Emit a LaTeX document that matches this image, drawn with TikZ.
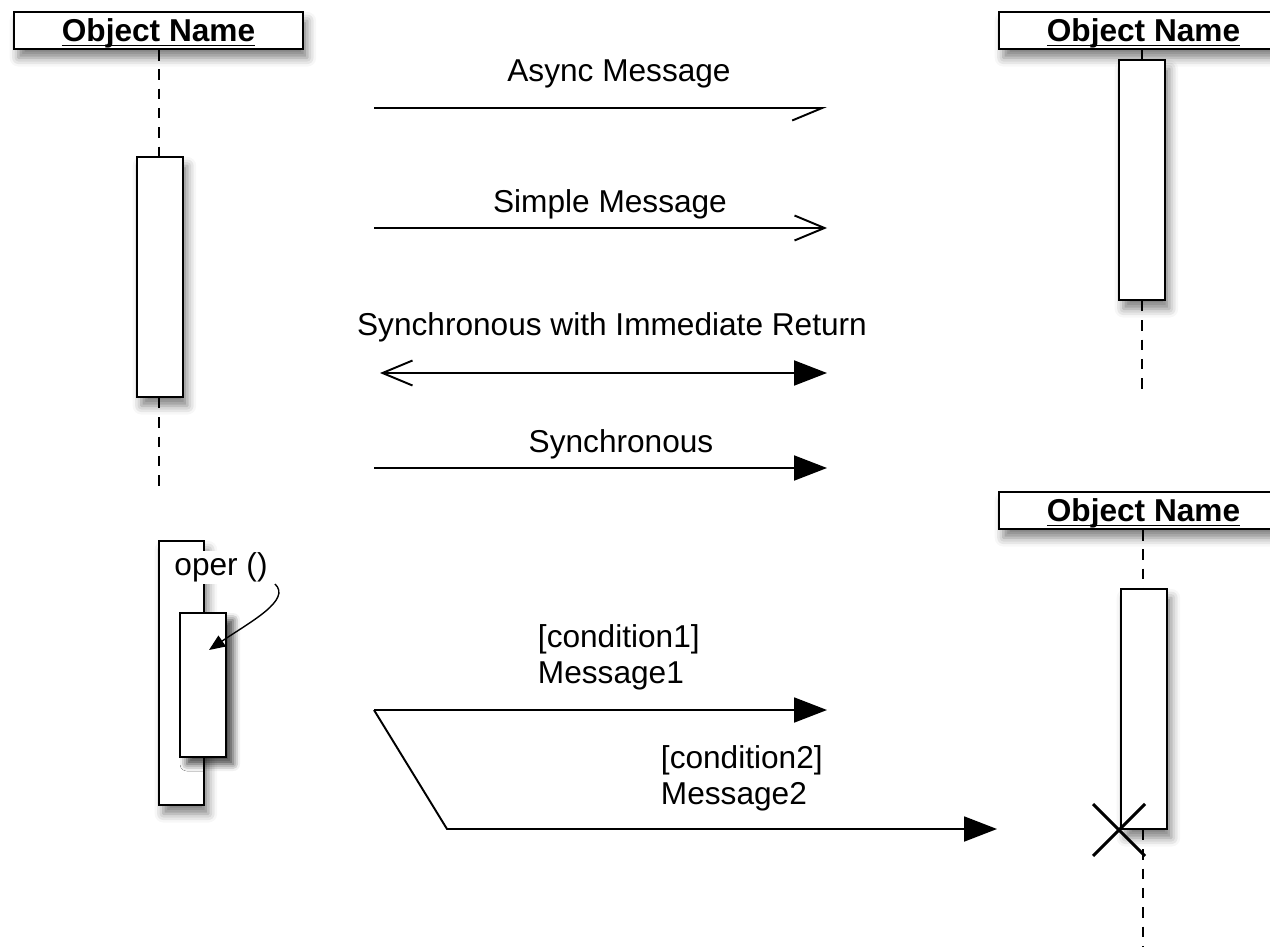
\documentclass[tikz,border=0pt]{standalone}
\usepackage{fontspec}
\setmainfont{Liberation Sans}
\usetikzlibrary{arrows.meta, shadows.blur, positioning}

% underlined object name, rule close to the baseline
\newcommand{\ulname}[1]{\setbox0\hbox{#1}\rlap{\raisebox{-2.6pt}{\rule{\wd0}{1.1pt}}}\box0}

\begin{document}
\begin{tikzpicture}[x=0.02cm, y=-0.02cm, line width=1.1pt,
        font=\fontsize{18}{20.5}\selectfont,
        boxshadow/.style={blur shadow={shadow xshift=2.5pt, shadow yshift=-5pt,
            shadow blur radius=5pt, shadow opacity=50}},
        objbox/.style={draw, fill=white, boxshadow, inner sep=0pt,
            minimum width=5.78cm, minimum height=0.74cm,
            text height=15pt, text depth=2pt,
            font=\fontsize{18}{20.5}\selectfont\bfseries},
        actbox/.style={draw, fill=white, boxshadow, inner sep=0pt,
            minimum width=0.92cm, minimum height=4.8cm},
        lifeline/.style={dash pattern=on 6pt off 5pt},
        asyncmsg/.style={-{Straight Barb[harpoon, swap, length=0.6cm, width=0.5cm]}},
        simplemsg/.style={-{Straight Barb[length=0.6cm, width=0.5cm]}},
        syncmsg/.style={-{Triangle[length=0.66cm, width=0.5cm]}},
        syncret/.style={{Straight Barb[length=0.6cm, width=0.5cm]}-{Triangle[length=0.66cm, width=0.5cm]}}
    ]
        \clip (0,0) rectangle (1270,946);

        % Object boxes
        \node[objbox] (objA) at (158.5,30.5) {\ulname{Object Name}};
        \node[objbox] (objB) at (1143.5,30.5) {\ulname{Object Name}};
        \node[objbox] (objC) at (1143.5,510.5) {\ulname{Object Name}};

        % Activation boxes
        \node[actbox] (actA) at (160,277) {};
        \node[actbox] (actB) at (1142,180) {};
        \node[actbox] (actC) at (1144,709) {};

        % Lifelines
        \coordinate (endA) at (159,490);
        \coordinate (endB) at (1142,397);
        \coordinate (endC) at (1143,946);
        \draw[lifeline] (objA.south -| 159,0) -- (actA.north -| 159,0);
        \draw[lifeline] (actA.south -| 159,0) -- (endA);
        \draw (objB.south -| actB.north) -- (actB.north);
        \draw[lifeline] (actB.south) -- (endB);
        \draw[lifeline] (objC.south -| 1143,0) -- (actC.north -| 1143,0);
        \draw[lifeline] (actC.south -| 1143,0) -- (endC);

        % Destruction mark
        \coordinate (kill) at (1119,830);
        \draw[line width=1.7pt] (kill) +(-26,-26) -- +(26,26);
        \draw[line width=1.7pt] (kill) +(-26,26) -- +(26,-26);

        % Self call
        \node[actbox, minimum width=0.9cm, minimum height=5.28cm] (outer) at (181.5,673) {};
        \node[fill=white, inner sep=1pt] (oper) at (221,567) {oper ()};
        \node[actbox, minimum height=2.88cm, blur shadow={shadow xshift=4pt, shadow yshift=-4pt,
            shadow blur radius=4pt, shadow opacity=45}] (inner) at (203,685) {};
        \coordinate (operTail) at (275,584);
        \coordinate (operTip) at (209,650);
        \draw[-{Triangle[length=0.32cm, width=0.26cm]}, line width=0.8pt]
            (operTail) .. controls (292,600) and (250,622) .. (operTip);

        % Messages
        \coordinate (asyncS) at (374,108);
        \coordinate (asyncE) at (827,108);
        \draw[asyncmsg] (asyncS) -- (asyncE);
        \node (asyncLbl) at (619,74) {Async Message};

        \coordinate (simpleS) at (374,228);
        \coordinate (simpleE) at (827,228);
        \draw[simplemsg] (simpleS) -- (simpleE);
        \node (simpleLbl) at (610,204) {Simple Message};

        \coordinate (retS) at (380,373);
        \coordinate (retE) at (827,373);
        \draw[syncret] (retS) -- (retE);
        \node (retLbl) at (612,327) {Synchronous with Immediate Return};

        \coordinate (syncS) at (374,468);
        \coordinate (syncE) at (827,468);
        \draw[syncmsg] (syncS) -- (syncE);
        \node (syncLbl) at (621,444) {Synchronous};

        % Conditional messages
        \coordinate (condS) at (374,710);
        \coordinate (condA) at (827,710);
        \coordinate (condBend) at (447,829);
        \coordinate (condB) at (997,829);
        \draw[syncmsg] (condS) -- (condA);
        \draw[syncmsg] (condS) -- (condBend) -- (condB);
        \node[anchor=west, align=left, inner sep=0pt] (condALbl) at (537,657) {[condition1]\\Message1};
        \node[anchor=west, align=left, inner sep=0pt] (condBLbl) at (660,778) {[condition2]\\Message2};
    \end{tikzpicture}
\end{document}
